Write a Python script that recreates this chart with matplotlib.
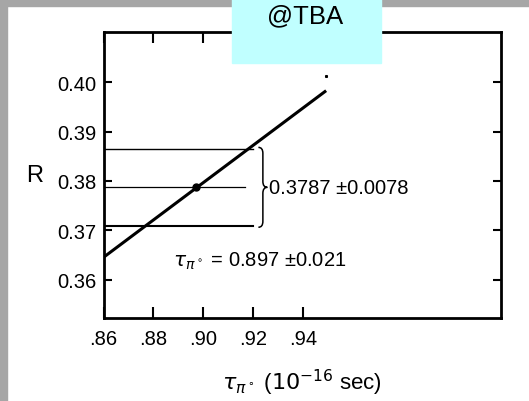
import matplotlib
matplotlib.use("Agg")
import matplotlib.pyplot as plt
from matplotlib.path import Path
from matplotlib.patches import PathPatch, Rectangle

plt.rcParams['font.family'] = ['Liberation Sans', 'DejaVu Sans']
plt.rcParams['mathtext.fontset'] = 'dejavusans'

# data
line_tau = [0.86, 0.9494]
line_R = [0.3645, 0.3983]
R_central = 0.3787
R_err = 0.0078
tau_central = 0.897
tau_err = 0.021
hline_xmax = [0.92, 0.9168, 0.92]   # upper, central, lower
xticks = [0.86, 0.88, 0.90, 0.92, 0.94]
xticklabels = ['.86', '.88', '.90', '.92', '.94']
yticks = [0.36, 0.37, 0.38, 0.39, 0.40]
yticklabels = ['0.36', '0.37', '0.38', '0.39', '0.40']
speck = (0.9494, 0.4013)

W, H = 529, 402
fig = plt.figure(figsize=(W/100, H/100), dpi=100)
fig.patch.set_facecolor('white')

# gray frame strips
fig.patches.append(Rectangle((0, 1-7/H), 1, 7/H, transform=fig.transFigure,
                             color='#a6a6a6', zorder=0))
fig.patches.append(Rectangle((0, 0), 7/W, 1, transform=fig.transFigure,
                             color='#a6a6a6', zorder=0))

ax = fig.add_axes([103.5/W, 1-318.5/H, (500.7-103.5)/W, (318.5-33)/H])
ax.set_xlim(0.86, 1.0195)
ax.set_ylim(0.3523, 0.4102)

# main line
ax.plot(line_tau, line_R, color='black', lw=2.2, solid_capstyle='butt')
# horizontal lines
levels = [R_central + R_err, R_central, R_central - R_err]
lws = [1.0, 0.9, 1.5]
for y, xm, lw in zip(levels, hline_xmax, lws):
    ax.plot([0.86, xm], [y, y], color='black', lw=lw)
# central point
ax.plot([tau_central], [R_central], 'o', color='black', ms=5)
ax.plot([speck[0]], [speck[1]], 's', color='black', ms=1.2)

# brace
xl, xs, xt = 0.9222, 0.9240, 0.9258
ytop, ybot, ymid = levels[0] + 0.0003, levels[2] - 0.0003, R_central
d = 0.0012
verts = [(xl, ytop), (xs, ytop), (xs, ytop - d),
         (xs, ymid + d),
         (xs, ymid), (xt, ymid),
         (xs, ymid), (xs, ymid - d),
         (xs, ybot + d),
         (xs, ybot), (xl, ybot)]
codes = [Path.MOVETO, Path.CURVE3, Path.CURVE3,
         Path.LINETO,
         Path.CURVE3, Path.CURVE3,
         Path.CURVE3, Path.CURVE3,
         Path.LINETO,
         Path.CURVE3, Path.CURVE3]
ax.add_patch(PathPatch(Path(verts, codes), fill=False, lw=1.1, color='black'))

ax.text(0.9266, R_central - 0.0001, f'{R_central:.4f} \u00b1{R_err:.4f}',
        fontsize=14.5, va='center', ha='left')
ax.text(0.8880, 0.3638,
        r'$\tau_{\pi^\circ}$' + f' = {tau_central:.3f} \u00b1{tau_err:.3f}',
        fontsize=14.5, va='center', ha='left')

# ticks
ax.set_xticks(xticks)
ax.set_xticklabels(xticklabels, fontsize=14.5)
ax.set_yticks(yticks)
ax.set_yticklabels(yticklabels, fontsize=14.5)
ax.tick_params(axis='both', direction='in', width=1.5, top=True, right=True)
ax.tick_params(axis='y', length=6, pad=5)
ax.tick_params(axis='x', length=8, pad=8)
for s in ax.spines.values():
    s.set_linewidth(2)

ax.set_ylabel('R', fontsize=17, rotation=0, labelpad=16, va='center')
ax.set_xlabel(r'$\tau_{\pi^\circ}$ ($10^{-16}$ sec)', fontsize=16, labelpad=14)

# cyan label box
fig.patches.append(Rectangle((231.7/W, 1-64/H), (381-231.7)/W, 64/H,
                             transform=fig.transFigure, color='#c0ffff', zorder=5))
fig.text(305.5/W, 1-16/H, '@TBA', fontsize=18.5, ha='center', va='center', zorder=6)

fig.savefig('out.png', dpi=100, facecolor='white')
